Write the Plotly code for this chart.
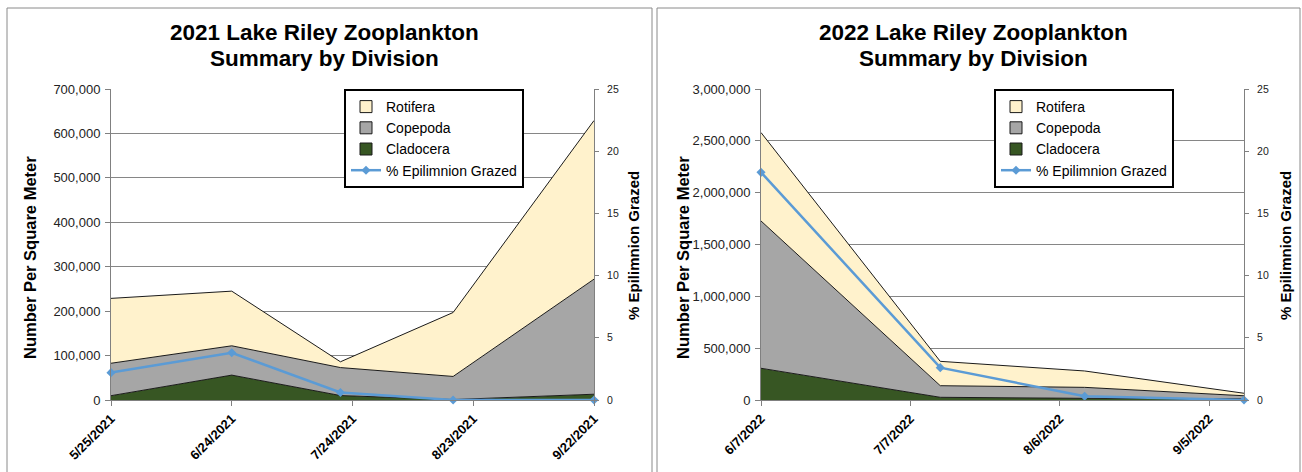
import plotly.graph_objects as go

# ---- data ----
dates_2021 = ["2021-05-25", "2021-06-24", "2021-07-21", "2021-08-18", "2021-09-22"]
clad_2021 = [9700, 56000, 10000, 1000, 13000]
cope_2021 = [73000, 66000, 63000, 52000, 259000]
roti_2021 = [146000, 123000, 13000, 144000, 357000]
graz_2021 = [2.2, 3.8, 0.6, 0.0, 0.0]

dates_2022 = ["2022-06-07", "2022-07-13", "2022-08-11", "2022-09-12"]
clad_2022 = [306000, 26000, 16000, 12000]
cope_2022 = [1421000, 112000, 106000, 29000]
roti_2022 = [853000, 235000, 158000, 24000]
graz_2022 = [18.3, 2.6, 0.3, 0.0]

titles = [["2021 Lake Riley Zooplankton", "Summary by Division"],
          ["2022 Lake Riley Zooplankton", "Summary by Division"]]
series_names = ["Cladocera", "Copepoda", "Rotifera", "% Epilimnion Grazed"]

W, H = 1302, 472
FONT = "Liberation Sans, Arial, sans-serif"
C_ROT = "#FFF2CC"
C_COP = "#A6A6A6"
C_CLA = "#375623"
C_LINE = "#5B9BD5"
GRID = "#868686"
AX = "#808080"


def px(x):
    return x / W


def py(y):
    return 1 - y / H


fig = go.Figure()

panels = [
    dict(dates=dates_2021, clad=clad_2021, cope=cope_2021, roti=roti_2021, graz=graz_2021,
         x0=111, x1=594, yr=700000, dy=100000, rng=["2021-05-25", "2021-09-22"],
         legend="legend", lx=344, title=titles[0], tx=324, ax="x", ay="y", ay2="y2",
         ytitle_x=30, y2title_x=633),
    dict(dates=dates_2022, clad=clad_2022, cope=cope_2022, roti=roti_2022, graz=graz_2022,
         x0=761, x1=1244, yr=3000000, dy=500000, rng=["2022-06-07", "2022-09-12"],
         legend="legend2", lx=994, title=titles[1], tx=973, ax="x2", ay="y3", ay2="y4",
         ytitle_x=683, y2title_x=1285),
]

PT, PB = 89, 400

for i, p in enumerate(panels):
    sg = f"stack{i}"
    specs = [
        (series_names[0], p["clad"], C_CLA, 3),
        (series_names[1], p["cope"], C_COP, 2),
        (series_names[2], p["roti"], C_ROT, 1),
    ]
    for name, vals, col, rank in specs:
        fig.add_trace(go.Scatter(
            x=p["dates"], y=vals, name=name, stackgroup=sg, mode="lines",
            line=dict(color="#1a1a1a", width=1), fillcolor=col,
            xaxis=p["ax"], yaxis=p["ay"], showlegend=False, hoverinfo="skip"))
        # legend swatch (no data drawn)
        fig.add_trace(go.Bar(
            x=[None], y=[None], name=name, marker=dict(color=col, line=dict(color="#1a1a1a", width=1)),
            xaxis=p["ax"], yaxis=p["ay"], legend=p["legend"], legendrank=rank,
            legendgroup=f"{name}{i}", hoverinfo="skip"))
    fig.add_trace(go.Scatter(
        x=p["dates"], y=p["graz"], name=series_names[3], mode="lines+markers",
        line=dict(color=C_LINE, width=2.5),
        marker=dict(symbol="diamond", size=7, color=C_LINE),
        xaxis=p["ax"], yaxis=p["ay2"], legend=p["legend"], legendrank=4,
        legendgroup=f"graz{i}", cliponaxis=False, hoverinfo="skip"))

    # titles (two lines)
    for line_text, ly in zip(p["title"], [32, 58]):
        fig.add_annotation(x=px(p["tx"]), y=py(ly), xref="paper", yref="paper",
                           text=f"<b>{line_text}</b>", showarrow=False,
                           font=dict(family=FONT, size=22.5, color="black"),
                           xanchor="center", yanchor="middle")
    # axis titles
    fig.add_annotation(x=px(p["ytitle_x"]), y=py(258), xref="paper", yref="paper",
                       text="<b>Number Per Square Meter</b>", showarrow=False, textangle=-90,
                       font=dict(family=FONT, size=16.5, color="black"),
                       xanchor="center", yanchor="middle")
    fig.add_annotation(x=px(p["y2title_x"]), y=py(246), xref="paper", yref="paper",
                       text="<b>% Epilimnion Grazed</b>", showarrow=False, textangle=-90,
                       font=dict(family=FONT, size=15, color="black"),
                       xanchor="center", yanchor="middle")

    xdom = [px(p["x0"]), px(p["x1"])]
    ydom = [py(PB), py(PT)]
    xk = "xaxis" if p["ax"] == "x" else "xaxis2"
    yk = "yaxis" if p["ay"] == "y" else "yaxis3"
    y2k = "yaxis2" if p["ay2"] == "y2" else "yaxis4"
    fig.update_layout(**{
        xk: dict(domain=xdom, anchor=p["ay"], type="date", range=p["rng"],
                 tick0=p["rng"][0], dtick=30 * 86400000, tickformat="%-m/%-d/%Y",
                 tickangle=-45, ticks="outside", ticklen=5, tickcolor=AX,
                 showline=True, linecolor=AX, linewidth=1, showgrid=False,
                 automargin=False,
                 tickfont=dict(family=FONT, size=13, color="black", weight="bold"),
                 fixedrange=True),
        yk: dict(domain=ydom, anchor=p["ax"], range=[0, p["yr"]], dtick=p["dy"],
                 tickformat=",d", ticks="outside", ticklen=5, tickcolor=AX,
                 showline=True, linecolor=AX, linewidth=1, showgrid=True,
                 gridcolor=GRID, gridwidth=1, zeroline=False, automargin=False,
                 ticklabelstandoff=2,
                 tickfont=dict(family=FONT, size=13, color="#222"), fixedrange=True),
        y2k: dict(overlaying=p["ay"], anchor=p["ax"], side="right", range=[0, 25], dtick=5,
                  ticks="outside", ticklen=4, tickcolor=AX, showline=True, linecolor=AX,
                  linewidth=1, showgrid=False, zeroline=False, automargin=False,
                  ticklabelstandoff=6,
                  tickfont=dict(family=FONT, size=10.5, color="#222"), fixedrange=True),
        p["legend"]: dict(x=px(p["lx"]), y=py(89), xanchor="left", yanchor="top",
                          bgcolor="white", bordercolor="black", borderwidth=2,
                          font=dict(family=FONT, size=14, color="black"),
                          itemwidth=30, tracegroupgap=2, traceorder="normal"),
    })

# panel borders
fig.add_shape(type="rect", xref="paper", yref="paper", x0=px(7), x1=px(652), y0=py(490), y1=py(8),
              line=dict(color="#8a8a8a", width=1), layer="below")
fig.add_shape(type="rect", xref="paper", yref="paper", x0=px(657), x1=px(1300), y0=py(490), y1=py(8),
              line=dict(color="#8a8a8a", width=1), layer="below")

fig.update_layout(width=W, height=H, margin=dict(l=0, r=0, t=0, b=0, autoexpand=False),
                  paper_bgcolor="white", plot_bgcolor="white",
                  font=dict(family=FONT), showlegend=True)

fig.write_html("out.html")
